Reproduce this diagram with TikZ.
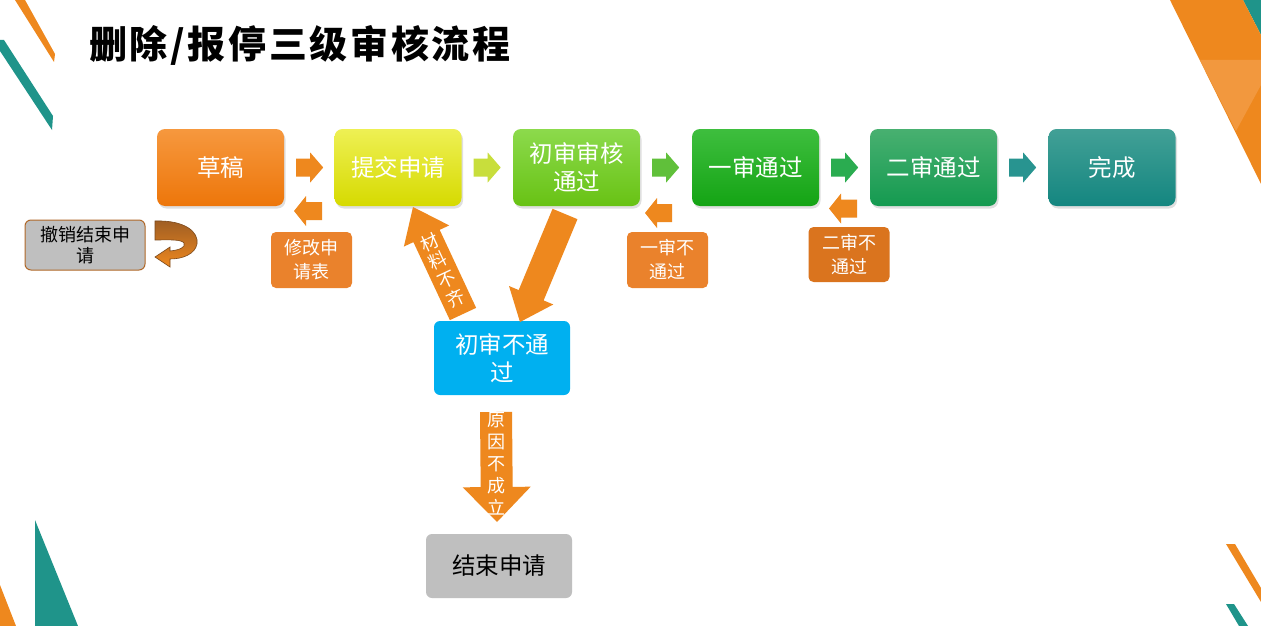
\documentclass[tikz,border=0pt]{standalone}
\usepackage{fontspec}
\setmainfont{Noto Sans CJK SC}
\newfontfamily\titlefont{Noto Sans CJK SC}[LetterSpace=7]
\usetikzlibrary{calc,shadows}
\definecolor{orA}{RGB}{238,136,30}
\definecolor{orLbl}{RGB}{234,130,44}
\definecolor{orLblD}{RGB}{218,116,30}
\definecolor{tealD}{RGB}{31,148,138}
\definecolor{orLight}{RGB}{242,152,62}
\definecolor{blueBox}{RGB}{0,176,240}
\definecolor{grayBox}{RGB}{191,191,191}
\definecolor{brownLine}{RGB}{176,104,40}
\definecolor{c1t}{RGB}{246,152,62}\definecolor{c1b}{RGB}{237,118,10}
\definecolor{c2t}{RGB}{238,240,84}\definecolor{c2b}{RGB}{214,218,0}
\definecolor{c3t}{RGB}{140,218,76}\definecolor{c3b}{RGB}{104,194,20}
\definecolor{c4t}{RGB}{62,190,62}\definecolor{c4b}{RGB}{20,164,20}
\definecolor{c5t}{RGB}{72,176,112}\definecolor{c5b}{RGB}{20,154,80}
\definecolor{c6t}{RGB}{66,160,150}\definecolor{c6b}{RGB}{20,134,128}
\definecolor{ar2}{RGB}{200,222,60}
\definecolor{ar3}{RGB}{96,192,58}
\definecolor{ar4}{RGB}{42,172,80}
\definecolor{ar5}{RGB}{40,148,144}
% tail, tip, half shaft, half head, head length
\newcommand\fatarrow[6][]{%
  \coordinate (fah) at ($(#3)!#6!(#2)$);
  \fill[#1] ($(#2)!#4!90:(#3)$) -- ($(fah)!#4!90:(#3)$) -- ($(fah)!#5!90:(#3)$) -- (#3)
    -- ($(fah)!#5!-90:(#3)$) -- ($(fah)!#4!-90:(#3)$) -- ($(#2)!#4!-90:(#3)$) -- cycle;}
\begin{document}
\begin{tikzpicture}[x=1pt,y=-1pt,
  mainbox/.style={rounded corners=8pt, minimum width=127pt, minimum height=77pt, inner sep=0pt,
    align=center, text=white, font=\fontsize{23.5}{28}\selectfont,
    drop shadow={shadow xshift=1.5pt, shadow yshift=-2.5pt, opacity=0.25}},
  labelbox/.style={rounded corners=5pt, minimum width=81pt, minimum height=56pt, inner sep=0pt,
    align=center, text=white, font=\fontsize{18}{24}\selectfont},
  deco/.style={draw=none}]
\useasboundingbox (0,0) rectangle (1261,626);
\fill[white] (0,0) rectangle (1261,626);
% decorations
\fill[orA] (15,0) -- (25,0) -- (55,54) -- (54,62) -- cycle;
\fill[tealD] (0,40) -- (4,40) -- (53,116) -- (52,130) -- (0,51) -- cycle;
\fill[tealD] (1243,0) -- (1261,0) -- (1261,35) -- cycle;
\fill[orA] (1170,0) -- (1243,0) -- (1261,35) -- (1261,184) -- cycle;
\fill[orLight] (1200,60) -- (1261,60) -- (1261,85) -- (1236,131) -- cycle;
\fill[tealD] (35,520) -- (78,626) -- (35,626) -- cycle;
\fill[orA] (0,585) -- (16,626) -- (0,626) -- cycle;
\fill[orA] (1226,544) -- (1235,544) -- (1261,588) -- (1261,602) -- cycle;
\fill[tealD] (1226,604) -- (1234,604) -- (1248,626) -- (1239,626) -- cycle;
% title
\node[anchor=west, inner sep=0pt, font=\titlefont\bfseries\fontsize{38}{40}\selectfont] (title) at (89,45) {删除/报停三级审核流程};
% main boxes
\node[mainbox, top color=c1t, bottom color=c1b] (b1) at (220.5,167.5) {草稿};
\node[mainbox, top color=c2t, bottom color=c2b] (b2) at (398,167.5) {提交申请};
\node[mainbox, top color=c3t, bottom color=c3b] (b3) at (576.5,167.5) {初审审核\\通过};
\node[mainbox, top color=c4t, bottom color=c4b] (b4) at (755.5,167.5) {一审通过};
\node[mainbox, top color=c5t, bottom color=c5b] (b5) at (933.5,167.5) {二审通过};
\node[mainbox, top color=c6t, bottom color=c6b] (b6) at (1112,167.5) {完成};
% right arrows
\foreach \a/\b/\c in {b1/b2/orA, b2/b3/ar2, b3/b4/ar3, b4/b5/ar4, b5/b6/ar5}{
  \coordinate (\a-t) at ($(\a.east)+(12,0)$);
  \coordinate (\a-h) at ($(\a.east)+(39,0)$);
  \fatarrow[fill=\c]{\a-t}{\a-h}{9pt}{15pt}{13pt}
}
% label boxes
\node[labelbox, fill=orLbl] (l1) at (311.5,260) {修改申\\请表};
\node[labelbox, fill=orLbl] (l2) at (667.5,260) {一审不\\通过};
\node[labelbox, fill=orLblD, minimum height=55pt] (l3) at (849,254.5) {二审不\\通过};
% left arrows
\coordinate (a1t) at (322,211); \coordinate (a1h) at (294,211);
\coordinate (a2t) at (672,213); \coordinate (a2h) at (645,213);
\coordinate (a3t) at (857,208.5); \coordinate (a3h) at (829,208.5);
\fatarrow[fill=orA]{a1t}{a1h}{9pt}{15pt}{12pt}
\fatarrow[fill=orA]{a2t}{a2h}{9pt}{15pt}{12pt}
\fatarrow[fill=orA]{a3t}{a3h}{9pt}{15pt}{12pt}
% cancel box
\node[rounded corners=6pt, fill=grayBox, draw=brownLine, line width=1pt, minimum width=120pt, minimum height=50pt,
  inner sep=0pt, align=center, font=\fontsize{18}{21}\selectfont] (cx) at (85,245) {撤销结束申\\请};
\shade[top color=brownLine!90!black, bottom color=orA, draw=brownLine!70!black, line width=0.6pt]
  (155,221) .. controls (185,220) and (199,232) .. (197,244) .. controls (195,254) and (183,259) .. (170,259)
  -- (170,267) -- (155,257) -- (170,247) -- (170,251)
  .. controls (180,250) and (186,247) .. (184,243) .. controls (181,239) and (168,240) .. (155,240) -- cycle;
% fail box
\node[rounded corners=6pt, fill=blueBox, minimum width=136pt, minimum height=74pt, inner sep=0pt,
  align=center, text=white, font=\fontsize{23.5}{28}\selectfont] (nb) at (502,358) {初审不通\\过};
% end box
\node[rounded corners=6pt, fill=grayBox, minimum width=146pt, minimum height=64pt, inner sep=0pt,
  font=\fontsize{23.5}{28}\selectfont] (ne) at (499,566) {结束申请};
% big arrows
\coordinate (m1t) at (463,314); \coordinate (m1h) at (413,207);
\fatarrow[fill=orA]{m1t}{m1h}{14.5pt}{25pt}{32pt}
\node[rotate=25, text=white, align=center, font=\fontsize{18}{20.5}\selectfont, inner sep=0pt] at ($(m1h)!0.59!(m1t)$) {材\\料\\不\\齐};
\coordinate (m2t) at (565,214); \coordinate (m2h) at (520,322);
\fatarrow[fill=orA]{m2t}{m2h}{13.5pt}{24pt}{29pt}
\coordinate (m3t) at (496,412); \coordinate (m3h) at (497,522);
\fatarrow[fill=orA]{m3t}{m3h}{16pt}{34pt}{35pt}
\node[text=white, align=center, font=\fontsize{18}{22}\selectfont, inner sep=0pt] at (496,464) {原\\因\\不\\成\\立};
\end{tikzpicture}
\end{document}
